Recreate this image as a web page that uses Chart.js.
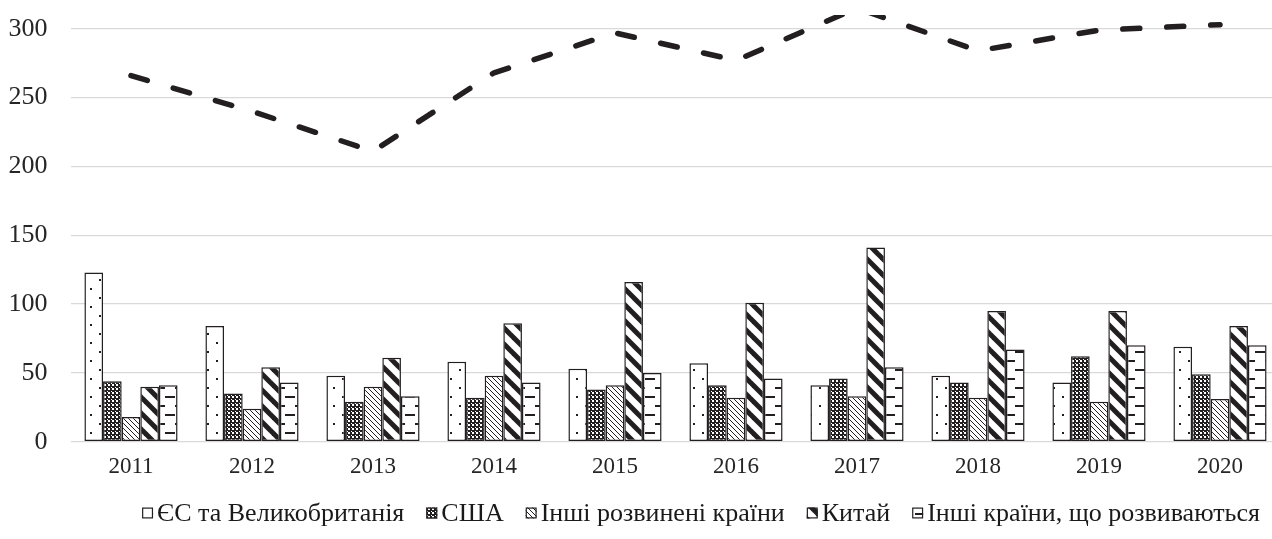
<!DOCTYPE html>
<html lang="uk">
<head>
<meta charset="utf-8">
<title>Обсяги за регіонами, 2011–2020</title>
<script src="https://cdn.jsdelivr.net/npm/chart.js@4.4.1/dist/chart.umd.min.js"></script>
<style>
  html, body { margin: 0; padding: 0; background: #ffffff; overflow: hidden; }
  #wrap { position: absolute; left: 0; top: 0; width: 1404px; height: 539px; }
  canvas { display: block; }
</style>
</head>
<body>
<div id="wrap"><canvas id="chart" width="1404" height="539"></canvas></div>
<script>
// Categories (years)
const years = ['2011', '2012', '2013', '2014', '2015', '2016', '2017', '2018', '2019', '2020'];

// Bar series
const euUk = [123, 84, 48, 58, 53, 57, 41, 48, 43, 69];
const usa = [44, 35, 29, 32, 38, 41, 46, 43, 62, 49];
const otherDeveloped = [18, 24, 40, 48, 41, 32, 33, 32, 29, 31];
const china = [40, 54, 61, 86, 116, 101, 141, 95, 95, 84];
const otherDeveloping = [41, 43, 33, 43, 50, 46, 54, 67, 70, 70];

// Line series (total)
const total = [266, 240, 211, 268, 297, 277, 315, 284, 299, 303];

// Series names
const seriesNames = ['ЄС та Великобританія', 'США', 'Інші розвинені країни', 'Китай', 'Інші країни, що розвиваються'];

// Value axis ticks
const yTicks = [0, 50, 100, 150, 200, 250, 300];
const yMax = 310;

const INK = '#231f20';
const FONT = "'Liberation Serif', 'Times New Roman', serif";

const canvas = document.getElementById('chart');
const ctx = canvas.getContext('2d');

function tile(w, h, draw) {
  const c = document.createElement('canvas');
  c.width = w; c.height = h;
  const g = c.getContext('2d');
  g.fillStyle = '#ffffff';
  g.fillRect(0, 0, w, h);
  g.fillStyle = INK;
  g.strokeStyle = INK;
  draw(g, w, h);
  return ctx.createPattern(c, 'repeat');
}

// sparse dots
const patDots = tile(18, 18, g => {
  g.fillRect(0, 0, 2, 2);
  g.fillRect(9, 9, 2, 2);
});

// dense dark texture
const patDense = tile(4, 4, g => {
  g.fillRect(0, 0, 4, 4);
  g.fillStyle = '#ffffff';
  g.fillRect(0, 0, 2, 2);
  g.fillRect(3, 3, 1, 1);
});

// thin downward diagonals
const patThin = tile(5, 5, g => {
  for (let i = 0; i < 5; i++) g.fillRect(i, i, 1, 1);
});

// wide downward diagonals
const patWide = tile(16, 16, g => {
  g.lineWidth = 5;
  g.lineCap = 'butt';
  for (const dx of [-16, 0, 16]) {
    g.beginPath();
    g.moveTo(dx - 4, -4);
    g.lineTo(dx + 20, 20);
    g.stroke();
  }
});

// staggered horizontal dashes
const patDash = tile(20, 18, g => {
  g.fillRect(5, 0, 10, 2);
  g.fillRect(15, 9, 5, 2);
  g.fillRect(0, 9, 5, 2);
});

const barBase = {
  type: 'bar',
  borderColor: INK,
  borderWidth: 1.5,
  borderSkipped: false,
  categoryPercentage: 0.77,
  barPercentage: 1.0,
  order: 2
};

// Legend row under the axis: pattern swatch, short gap, series name
const legendRow = {
  id: 'legendRow',
  afterDraw(chart, args, opts) {
    const c = chart.ctx;
    const items = chart.data.datasets.filter(d => d.type === 'bar');
    c.save();
    c.font = opts.size + 'px ' + FONT;
    c.textBaseline = 'middle';
    c.textAlign = 'left';
    const widths = items.map(d => c.measureText(d.label).width);
    const totalW = widths.reduce((a, w) => a + w, 0) + items.length * (opts.box + opts.boxGap) + (items.length - 1) * opts.itemGap;
    let x = opts.centerX - totalW / 2;
    const y = opts.centerY;
    items.forEach((d, i) => {
      c.fillStyle = d.backgroundColor;
      c.fillRect(x, y - opts.box / 2, opts.box, opts.box);
      c.strokeStyle = INK;
      c.lineWidth = 1.2;
      c.strokeRect(x + 0.6, y - opts.box / 2 + 0.6, opts.box - 1.2, opts.box - 1.2);
      x += opts.box + opts.boxGap;
      c.fillStyle = '#1a1a1a';
      c.fillText(d.label, x, y + 1);
      x += widths[i] + opts.itemGap;
    });
    c.restore();
  }
};

const chart = new Chart(ctx, {
  data: {
    labels: years,
    datasets: [
      { label: 'Разом', type: 'line', data: total, borderColor: INK, backgroundColor: INK,
        borderWidth: 5.5, borderDash: [17, 27], borderCapStyle: 'round', borderJoinStyle: 'round',
        pointRadius: 0, tension: 0, fill: false, order: 0, clip: 0 },
      Object.assign({ label: seriesNames[0], data: euUk, backgroundColor: patDots }, barBase),
      Object.assign({ label: seriesNames[1], data: usa, backgroundColor: patDense }, barBase),
      Object.assign({ label: seriesNames[2], data: otherDeveloped, backgroundColor: patThin }, barBase),
      Object.assign({ label: seriesNames[3], data: china, backgroundColor: patWide }, barBase),
      Object.assign({ label: seriesNames[4], data: otherDeveloping, backgroundColor: patDash }, barBase)
    ]
  },
  plugins: [legendRow],
  options: {
    responsive: false,
    animation: false,
    devicePixelRatio: 1,
    layout: { padding: { top: 15, right: 123.5, bottom: 51.3, left: 0 } },
    scales: {
      x: {
        type: 'category',
        offset: true,
        grid: { display: false, drawTicks: false },
        border: { display: false },
        ticks: { color: '#262626', font: { family: FONT, size: 23 }, padding: 11, maxRotation: 0 },
        afterFit: s => { s.height = 46; }
      },
      y: {
        type: 'linear',
        min: 0,
        max: yMax,
        grid: { color: '#d9d9d9', lineWidth: 1.3, drawTicks: false },
        border: { display: false },
        ticks: { color: '#262626', font: { family: FONT, size: 26 }, padding: 23, stepSize: 50 },
        afterBuildTicks: s => { s.ticks = yTicks.map(v => ({ value: v })); },
        afterFit: s => { s.width = 70.5; s.paddingTop = 0; s.paddingBottom = 0; }
      }
    },
    plugins: {
      legend: { display: false },
      legendRow: { size: 26, box: 11, boxGap: 4, itemGap: 22, centerX: 701, centerY: 513 },
      tooltip: { enabled: false }
    }
  }
});
</script>
</body>
</html>
